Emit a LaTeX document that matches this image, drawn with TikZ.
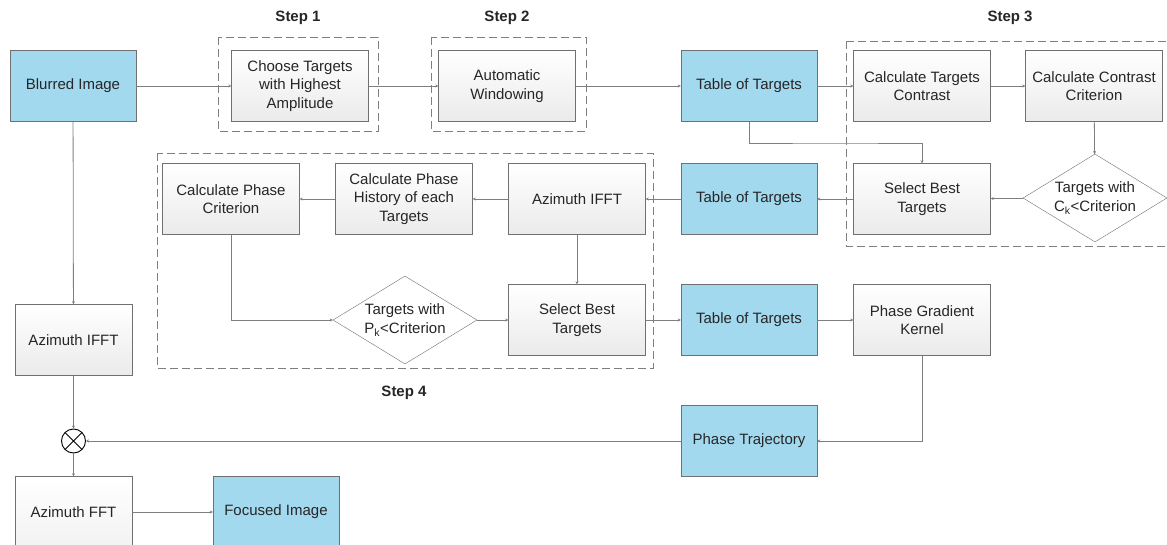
\documentclass[tikz,border=0pt]{standalone}
\usepackage{fontspec}
\setmainfont{Liberation Sans}
\usetikzlibrary{shapes.geometric, arrows.meta, positioning}
\definecolor{boxline}{HTML}{707070}
\definecolor{linkgray}{HTML}{7F7F7F}
\definecolor{datablue}{HTML}{A2D9EF}
\definecolor{txtgray}{HTML}{262626}

\begin{document}
\begin{tikzpicture}[x=1pt, y=-1pt,
                font=\fontsize{15}{18.5}\selectfont, text=txtgray,
                proc/.style={draw=boxline, top color=white, bottom color=gray!16, align=center,
                             minimum width=137pt, minimum height=71pt, inner sep=2pt},
                data/.style={draw=boxline, fill=datablue, align=center,
                             minimum width=136pt, minimum height=71pt, inner sep=2pt},
                test/.style={draw=boxline, fill=white, diamond, aspect=1.65, align=center,
                             minimum width=144pt, minimum height=88pt, inner sep=0pt},
                stepbox/.style={draw=linkgray, dash pattern=on 8pt off 4pt, line width=0.8pt},
                steplabel/.style={font=\fontsize{15}{18}\selectfont\bfseries},
                link/.style={draw=linkgray, line width=0.8pt, -{Stealth[length=3pt, width=3pt]}}]
\useasboundingbox (0,0) rectangle (1167,545);

% step frames
\draw[stepbox] (218,37) rectangle (378,131);
\draw[stepbox] (431,37) rectangle (586,131);
\draw[stepbox] (846,41) -- (1180,41) (846,41) -- (846,246) -- (1180,246);
\draw[stepbox] (157,153) rectangle (653,368);
\node[steplabel] (s1) at (298,18)  {Step 1};
\node[steplabel] (s2) at (507,18)  {Step 2};
\node[steplabel] (s3) at (1010,18) {Step 3};
\node[steplabel] (s4) at (404,393) {Step 4};

% top row
\node[data, minimum width=126pt] (blur)    at (73,86)   {Blurred Image};
\node[proc]  (choose)  at (300,86)  {Choose Targets\\with Highest\\Amplitude};
\node[proc]  (window)  at (507,86)  {Automatic\\Windowing};
\node[data]  (table1)  at (749,86)  {Table of Targets};
\node[proc]  (contr)   at (922,86)  {Calculate Targets\\Contrast};
\node[proc]  (ccrit)   at (1094,86) {Calculate Contrast\\Criterion};

% second row
\node[test]  (ctest)   at (1095,198) {Targets with\\C\textsubscript{k}<Criterion};
\node[proc]  (best1)   at (922,199) {Select Best\\Targets};
\node[data]  (table2)  at (749,199) {Table of Targets};
\node[proc]  (ifft2)   at (577,199) {Azimuth IFFT};
\node[proc]  (hist)    at (404,199) {Calculate Phase\\History of each\\Targets};
\node[proc]  (pcrit)   at (231,199) {Calculate Phase\\Criterion};

% third row
\node[test]  (ptest)   at (405,320) {Targets with\\P\textsubscript{k}<Criterion};
\node[proc]  (best2)   at (577,320) {Select Best\\Targets};
\node[data]  (table3)  at (749,320) {Table of Targets};
\node[proc]  (kernel)  at (922,320) {Phase Gradient\\Kernel};

% left column and bottom
\node[proc, minimum width=117pt] (ifft1) at (73.5,340) {Azimuth IFFT};
\node[draw=black, circle, minimum size=24pt, inner sep=0pt, fill=white, line width=0.9pt,
      path picture={\draw (path picture bounding box.north west) -- (path picture bounding box.south east)
                          (path picture bounding box.north east) -- (path picture bounding box.south west);}]
      (mult) at (73.5,441) {};
\node[data]  (traj)    at (749,441) {Phase Trajectory};
\node[proc, minimum width=117pt, bottom color=gray!10] (fft) at (73.5,512) {Azimuth FFT};
\node[data, minimum width=126pt] (focus)   at (276,512) {Focused Image};

\draw[link] (blur) -- (choose);
\draw[link] (choose) -- (window);
\draw[link] (window) -- (table1);
\draw[link] (table1) -- (contr);
\draw[link] (contr) -- (ccrit);
\draw[link] (ccrit) -- (ctest);
\draw[link] (ctest) -- (best1);
\draw[link] (table1.south) |- (835,143) -| (best1.north);
\draw[link] (best1) -- (table2);
\draw[link] (table2) -- (ifft2);
\draw[link] (ifft2) -- (hist);
\draw[link] (hist) -- (pcrit);
\draw[link] (pcrit.south) |- (ptest.west);
\draw[link] (ifft2) -- (best2);
\draw[link] (ptest) -- (best2);
\draw[link] (best2) -- (table3);
\draw[link] (table3) -- (kernel);
\draw[link] (kernel.south) |- (traj.east);
\draw[link] (traj) -- (mult);
\draw[link] (blur) -- (ifft1);
\draw[link] (ifft1) -- (mult);
\draw[link] (mult) -- (fft);
\draw[link] (fft) -- (focus);
\end{tikzpicture}
\end{document}
